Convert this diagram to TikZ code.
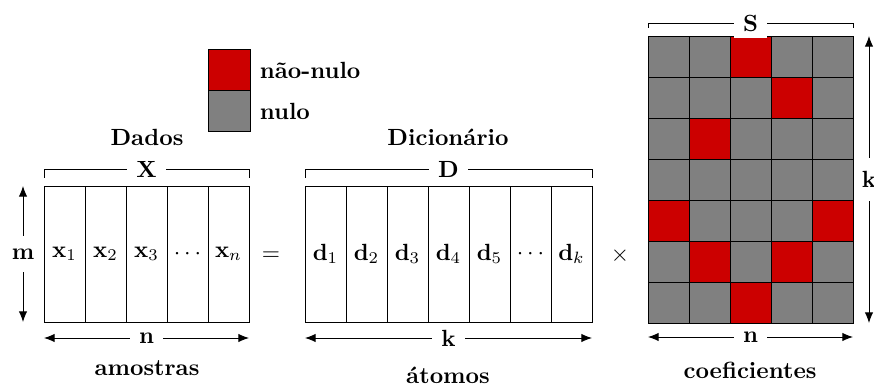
\documentclass[tikz,border=0pt]{standalone}
\usetikzlibrary{arrows.meta}
\definecolor{zred}{HTML}{CC0000}
\definecolor{zgray}{HTML}{808080}
\begin{document}
\begin{tikzpicture}[x=0.427pt,y=-0.427pt,font=\bfseries,
  col/.style={draw,minimum width=17.51pt,minimum height=58.07pt,inner sep=0pt,outer sep=0pt,anchor=north west},
  cellbox/.style={draw,fill=zgray,minimum size=17.51pt,inner sep=0pt,outer sep=0pt,anchor=north west},
  lab/.style={fill=white,inner xsep=4pt,inner ysep=3pt},
  vlab/.style={fill=white,inner xsep=3pt,inner ysep=5.5pt},
  dimarrow/.style={{Latex[length=4.5pt,width=3.6pt]}-{Latex[length=4.5pt,width=3.6pt]}},
  txt/.style={inner sep=1pt}]
\useasboundingbox (0,0) rectangle (874,385);
% legend
\node[draw,fill=zred,minimum width=17.93pt,minimum height=17.51pt,inner sep=0pt,outer sep=0pt,anchor=north west] (legred) at (208,49) {};
\node[draw,fill=zgray,minimum width=17.93pt,minimum height=17.51pt,inner sep=0pt,outer sep=0pt,anchor=north west] (leggray) at (208,90) {};
\node[anchor=west,txt] (legredt) at (257,70) {não-nulo};
\node[anchor=west,txt] (leggrayt) at (257,111) {nulo};
% X matrix
\node[col] (x1) at (44,186) {$\mathbf{x}_1$};
\node[col] (x2) at (85,186) {$\mathbf{x}_2$};
\node[col] (x3) at (126,186) {$\mathbf{x}_3$};
\node[col] (x4) at (167,186) {$\cdots$};
\node[col] (x5) at (208,186) {$\mathbf{x}_n$};
\node[txt] (dados) at (147,137) {Dados};
\coordinate (xb1) at (44,178);
\coordinate (xb2) at (44,169);
\coordinate (xb3) at (249,169);
\coordinate (xb4) at (249,178);
\draw (xb1) -- (xb2) -- node[lab] {X} (xb3) -- (xb4);
\coordinate (mt) at (23,186);
\coordinate (mb) at (23,322);
\draw[dimarrow] (mt) -- node[vlab] {m} (mb);
\coordinate (xnl) at (44,338);
\coordinate (xnr) at (249,338);
\draw[dimarrow] (xnl) -- node[lab] {n} (xnr);
\node[txt] (amostras) at (147,368) {amostras};
\node (eq) at (271,256) {$=$};
% D matrix
\node[col] (d1) at (305,186) {$\mathbf{d}_1$};
\node[col] (d2) at (346,186) {$\mathbf{d}_2$};
\node[col] (d3) at (387,186) {$\mathbf{d}_3$};
\node[col] (d4) at (428,186) {$\mathbf{d}_4$};
\node[col] (d5) at (469,186) {$\mathbf{d}_5$};
\node[col] (d6) at (510,186) {$\cdots$};
\node[col] (d7) at (551,186) {$\mathbf{d}_k$};
\node[txt] (dic) at (448,137) {Dicionário};
\coordinate (db1) at (305,178);
\coordinate (db2) at (305,169);
\coordinate (db3) at (592,169);
\coordinate (db4) at (592,178);
\draw (db1) -- (db2) -- node[lab] {D} (db3) -- (db4);
\coordinate (dkl) at (305,338);
\coordinate (dkr) at (592,338);
\draw[dimarrow] (dkl) -- node[lab] {k} (dkr);
\node[txt] (atomos) at (448,375) {átomos};
\node (times) at (620,256) {$\times$};
% S matrix
\foreach \r in {0,...,6}{
  \foreach \c in {0,...,4}{
    \node[cellbox] (s\r\c) at ({648+41*\c},{36+41*\r}) {};
  }
}
\foreach \r/\c in {0/2,1/3,2/1,4/0,4/4,5/1,5/3,6/2}{
  \node[cellbox,fill=zred] (r\r\c) at ({648+41*\c},{36+41*\r}) {};
}
\coordinate (sb1) at (648,28);
\coordinate (sb2) at (648,23);
\coordinate (sb3) at (853,23);
\coordinate (sb4) at (853,28);
\draw (sb1) -- (sb2) -- node[lab] {S} (sb3) -- (sb4);
\coordinate (skt) at (869,36);
\coordinate (skb) at (869,323);
\draw[dimarrow] (skt) -- node[vlab] {k} (skb);
\coordinate (snl) at (648,337);
\coordinate (snr) at (853,337);
\draw[dimarrow] (snl) -- node[lab] {n} (snr);
\node[txt] (coef) at (750,370) {coeficientes};
\end{tikzpicture}
\end{document}
